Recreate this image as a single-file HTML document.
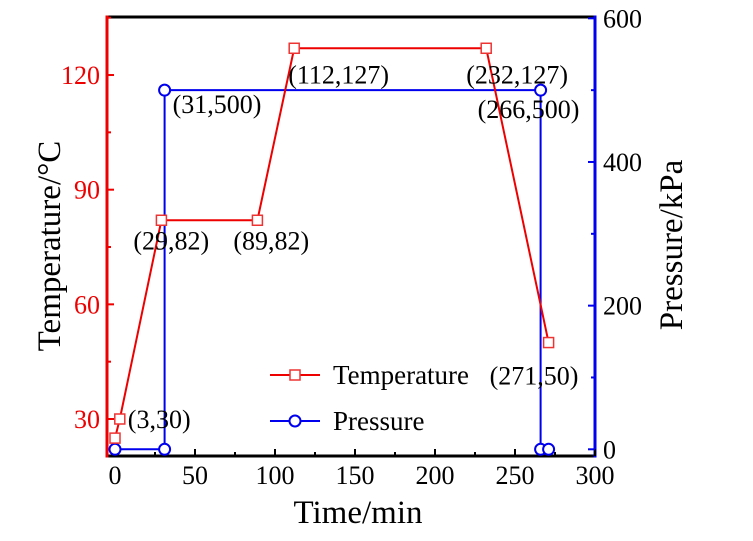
<!DOCTYPE html>
<html><head><meta charset="utf-8"><style>
body{margin:0;background:#fff;}
svg{display:block;font-family:"Liberation Serif",serif;}
</style></head><body>
<svg id="chart" width="753" height="541" viewBox="0 0 753 541"></svg>
<script>
const timeT = [0, 3, 29, 89, 112, 232, 271];
const tempV = [25, 30, 82, 82, 127, 127, 50];
const timeP = [0, 31, 31, 266, 266, 271];
const presV = [0, 0, 500, 500, 0, 0];
const xTicks = [0, 50, 100, 150, 200, 250, 300];
const yTempTicks = [30, 60, 90, 120];
const yPresTicks = [0, 200, 400, 600];
const labels = [
 {t:"(3,30)", x:3, y:30, dx:8, dy:9},
 {t:"(29,82)", x:29, y:82, dx:-28, dy:29},
 {t:"(89,82)", x:89, y:82, dx:-24, dy:29},
 {t:"(112,127)", x:112, y:127, dx:-6, dy:35},
 {t:"(232,127)", x:232, y:127, dx:-20, dy:35},
 {t:"(271,50)", x:271, y:50, dx:-59, dy:42},
];
const labelsP = [
 {t:"(31,500)", x:31, y:500, dx:8, dy:23},
 {t:"(266,500)", x:266, y:500, dx:-63, dy:28},
];
const X = v => 115 + v * 1.6;
const YT = v => 419 - (v - 30) * 3.822;
const YP = v => 449.3 - v * 0.7183;
const L=107, R=595, T=17, B=456;
const svg = document.getElementById('chart');
const NS = 'http://www.w3.org/2000/svg';
function mk(tag, at, parent){const e=document.createElementNS(NS,tag);for(const k in at)e.setAttribute(k,at[k]);(parent||svg).appendChild(e);return e;}
function txt(s, at){const e=mk('text',at);e.textContent=s;return e;}

let a;
a=mk('line',{x1:L,y1:T,x2:R,y2:T,stroke:'#000','stroke-width':3});

a=mk('line',{x1:L,y1:B,x2:R,y2:B,stroke:'#000','stroke-width':3});

a=mk('line',{x1:L,y1:T-1.5,x2:L,y2:B+1.5,stroke:'#e00','stroke-width':3});

a=mk('line',{x1:R,y1:T-1.5,x2:R,y2:B+1.5,stroke:'#00e','stroke-width':3});


xTicks.forEach((v,i)=>{
 const t=mk('line',{x1:X(v),y1:B,x2:X(v),y2:B-7,stroke:'#000','stroke-width':2});
 
 if(i<xTicks.length-1){const m=mk('line',{x1:X(v+25),y1:B,x2:X(v+25),y2:B-4,stroke:'#000','stroke-width':2});
 }
 const l=txt(String(v),{x:X(v),y:484,'font-size':26,'text-anchor':'middle',fill:'#000'});
 
});
yTempTicks.forEach(v=>{
 const t=mk('line',{x1:L,y1:YT(v),x2:L+7,y2:YT(v),stroke:'#e00','stroke-width':2});
 
 const m=mk('line',{x1:L,y1:YT(v+15),x2:L+4,y2:YT(v+15),stroke:'#e00','stroke-width':2});
 
 const l=txt(String(v),{x:L-7,y:YT(v)+9,'font-size':26,'text-anchor':'end',fill:'#e00'});
 
});
yPresTicks.forEach((v,i)=>{
 const t=mk('line',{x1:R,y1:YP(v),x2:R-7,y2:YP(v),stroke:'#00e','stroke-width':2});
 
 if(i<yPresTicks.length-1){const m=mk('line',{x1:R,y1:YP(v+100),x2:R-4,y2:YP(v+100),stroke:'#00e','stroke-width':2});
 }
 const l=txt(String(v),{x:R+8,y:YP(v)+9,'font-size':26,'text-anchor':'start',fill:'#000'});
 
});

a=txt('Time/min',{x:358,y:523,'font-size':33,'text-anchor':'middle',fill:'#000'});

a=txt('Temperature/°C',{x:0,y:0,'font-size':33,'text-anchor':'middle',fill:'#000',transform:'translate(60,246) rotate(-90)'});

a=txt('Pressure/kPa',{x:0,y:0,'font-size':33,'text-anchor':'middle',fill:'#000',transform:'translate(682,245) rotate(-90)'});


a=mk('polyline',{points:timeP.map((t,i)=>X(t)+','+YP(presV[i])).join(' '),fill:'none',stroke:'#00e','stroke-width':2});

a=mk('polyline',{points:timeT.map((t,i)=>X(t)+','+YT(tempV[i])).join(' '),fill:'none',stroke:'#e00','stroke-width':2});

timeP.forEach((t,i)=>{
 const c=mk('circle',{cx:X(t),cy:YP(presV[i]),r:5.5,fill:'#fff',stroke:'#00e','stroke-width':2});
 
});
timeT.forEach((t,i)=>{
 const s=mk('rect',{x:X(t)-5,y:YT(tempV[i])-5,width:10,height:10,fill:'#fff',stroke:'#e33','stroke-width':1.5});
 
});
labels.forEach(o=>{
 const l=txt(o.t,{x:X(o.x)+o.dx,y:YT(o.y)+o.dy,'font-size':26,fill:'#000'});
 
});
labelsP.forEach(o=>{
 const l=txt(o.t,{x:X(o.x)+o.dx,y:YP(o.y)+o.dy,'font-size':26,fill:'#000'});
 
});

const lg=mk('g',{});

a=mk('line',{x1:270,y1:375,x2:320,y2:375,stroke:'#e00','stroke-width':2},lg);

a=mk('rect',{x:290,y:370,width:10,height:10,fill:'#fff',stroke:'#e33','stroke-width':1.5},lg);

a=txt('Temperature',{x:333,y:384,'font-size':27,fill:'#000'});

a=mk('line',{x1:270,y1:421,x2:320,y2:421,stroke:'#00e','stroke-width':2},lg);

a=mk('circle',{cx:295,cy:421,r:5.5,fill:'#fff',stroke:'#00e','stroke-width':2},lg);

a=txt('Pressure',{x:333,y:430,'font-size':27,fill:'#000'});

</script>
</body></html>
